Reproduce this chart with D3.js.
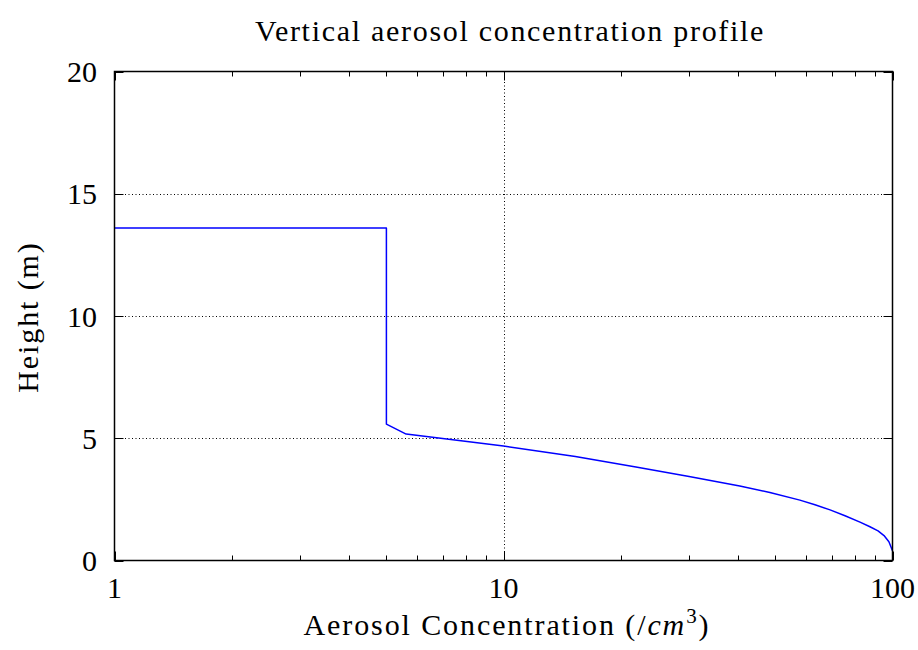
<!DOCTYPE html>
<html>
<head>
<meta charset="utf-8">
<script src="https://cdn.jsdelivr.net/npm/d3@7"></script>
<style>
  body { margin: 0; background: #fff; }
  svg text { font-family: "Liberation Serif", "DejaVu Serif", serif; fill: #000; }
</style>
</head>
<body>
<svg id="chart" width="918" height="650"></svg>
<script>
// profile samples: concentration (/cm^3) against height (m)
var concentration = [1, 5.0, 5.0, 5.62, 7.5, 10, 15.3, 21.9, 30, 40.5, 48.4, 57.8, 63.2, 69.1, 75.5, 82.5, 87.5, 91.8, 95.1, 97.9, 100];
var height        = [13.6, 13.6, 5.58, 5.17, 4.93, 4.68, 4.25, 3.82, 3.44, 3.05, 2.78, 2.47, 2.28, 2.07, 1.83, 1.57, 1.38, 1.21, 1.02, 0.77, 0.4];

var xTicks = [1, 10, 100];
var xMinor = [2, 3, 4, 5, 6, 7, 8, 9, 20, 30, 40, 50, 60, 70, 80, 90];
var yTicks = [0, 5, 10, 15, 20];

var svg = d3.select("#chart");
var plot = { left: 114.5, right: 892.5, top: 71.5, bottom: 560.5 };

var x = d3.scaleLog().domain([1, 100]).range([plot.left, plot.right]);
var y = d3.scaleLinear().domain([0, 20]).range([plot.bottom, plot.top]);

// grid at interior major ticks
var grid = svg.append("g").attr("stroke", "#000").attr("stroke-width", 1).attr("stroke-dasharray", "1,2.5");
grid.selectAll(".gx").data([10]).enter().append("line")
  .attr("x1", function(d) { return Math.round(x(d)) + 0.5; })
  .attr("x2", function(d) { return Math.round(x(d)) + 0.5; })
  .attr("y1", plot.top).attr("y2", plot.bottom);
grid.selectAll(".gy").data([5, 10, 15]).enter().append("line")
  .attr("y1", function(d) { return Math.round(y(d)) + 0.5; })
  .attr("y2", function(d) { return Math.round(y(d)) + 0.5; })
  .attr("x1", plot.left).attr("x2", plot.right);

// ticks pointing inward on all four sides
var ticks = svg.append("g").attr("stroke", "#000").attr("stroke-width", 1);
function xTick(vals, len) {
  vals.forEach(function(v) {
    var px = Math.round(x(v)) + 0.5;
    ticks.append("line").attr("x1", px).attr("x2", px).attr("y1", plot.bottom).attr("y2", plot.bottom - len);
    ticks.append("line").attr("x1", px).attr("x2", px).attr("y1", plot.top).attr("y2", plot.top + len);
  });
}
xTick(xTicks, 9);
xTick(xMinor, 5);
yTicks.forEach(function(v) {
  var py = Math.round(y(v)) + 0.5;
  ticks.append("line").attr("x1", plot.left).attr("x2", plot.left + 9).attr("y1", py).attr("y2", py);
  ticks.append("line").attr("x1", plot.right).attr("x2", plot.right - 9).attr("y1", py).attr("y2", py);
});

// profile line
var line = d3.line()
  .x(function(d, i) { return x(concentration[i]); })
  .y(function(d, i) { return y(height[i]); });
svg.append("path")
  .attr("d", line(height))
  .attr("fill", "none")
  .attr("stroke", "#0000ff")
  .attr("stroke-width", 1.5)
  .attr("stroke-linejoin", "round");

// frame
svg.append("rect")
  .attr("x", plot.left).attr("y", plot.top)
  .attr("width", plot.right - plot.left).attr("height", plot.bottom - plot.top)
  .attr("fill", "none").attr("stroke", "#000").attr("stroke-width", 1.5);

// tick labels
svg.selectAll(".xl").data(xTicks).enter().append("text")
  .attr("x", function(d) { return x(d); })
  .attr("y", 598)
  .attr("text-anchor", "middle")
  .attr("font-size", 30)
  .text(function(d) { return d; });
svg.selectAll(".yl").data(yTicks).enter().append("text")
  .attr("x", 97)
  .attr("y", function(d) { return y(d) + 10.5; })
  .attr("text-anchor", "end")
  .attr("font-size", 30)
  .text(function(d) { return d; });

// titles
svg.append("text")
  .attr("x", 510).attr("y", 41)
  .attr("text-anchor", "middle")
  .attr("font-size", 30)
  .attr("letter-spacing", 1.7)
  .text("Vertical aerosol concentration profile");

var xl = svg.append("text")
  .attr("x", 507).attr("y", 635)
  .attr("text-anchor", "middle")
  .attr("font-size", 30)
  .attr("letter-spacing", 1.9);
xl.append("tspan").text("Aerosol Concentration (/");
xl.append("tspan").attr("font-style", "italic").text("cm");
xl.append("tspan").attr("font-size", 21).attr("dy", -12).text("3");
xl.append("tspan").attr("dy", 12).text(")");

svg.append("text")
  .attr("transform", "translate(38,317) rotate(-90)")
  .attr("text-anchor", "middle")
  .attr("font-size", 30)
  .attr("letter-spacing", 1.9)
  .text("Height (m)");
</script>
</body>
</html>
